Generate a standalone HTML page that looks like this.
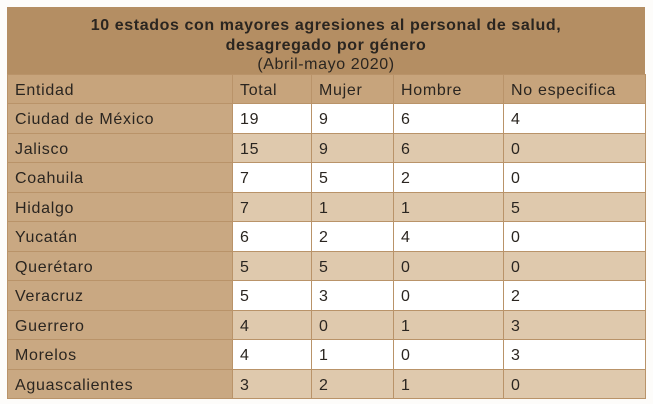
<!DOCTYPE html><html><head><style>
body{margin:0;width:653px;height:404px;background:#fdfcfa;font-family:"Liberation Sans",sans-serif;position:relative;overflow:hidden;color:#2a2520}
.t{position:absolute;left:7px;top:7px;width:638px;height:67px;background:#b48e63;text-align:center;font-size:16px;line-height:20px;letter-spacing:0.6px}
.c{position:absolute;box-sizing:border-box;border:1px solid #b99369;font-size:16px;letter-spacing:0.7px;padding-left:7px;padding-top:3px;display:flex;align-items:center}
</style></head><body>
<div class="t"><div style="padding-top:9px;font-weight:bold">10 estados con mayores agresiones al personal de salud,<br>desagregado por género</div><div style="line-height:18px">(Abril-mayo 2020)</div></div>
<div id="g"></div>
<script>
var cols=[7,232,311,393,503,645];
var rows=[["Entidad","Total","Mujer","Hombre","No especifica"],["Ciudad de México",19,9,6,4],["Jalisco",15,9,6,0],["Coahuila",7,5,2,0],["Hidalgo",7,1,1,5],["Yucatán",6,2,4,0],["Querétaro",5,5,0,0],["Veracruz",5,3,0,2],["Guerrero",4,0,1,3],["Morelos",4,1,0,3],["Aguascalientes",3,2,1,0]];
var h="";
for(var r=0;r<rows.length;r++){var y=r==0?74:Math.round(103+(r-1)*29.5);var y2=r==0?103:Math.round(103+r*29.5);
for(var c=0;c<5;c++){var bg=r==0?"#c7a47c":(c==0?"#c9a882":(r%2==1?"#ffffff":"#dfc9ad"));
h+='<div class="c" style="left:'+cols[c]+'px;top:'+y+'px;width:'+(cols[c+1]-cols[c]+1)+'px;height:'+(y2-y+1)+'px;background:'+bg+'">'+rows[r][c]+'</div>';}}
document.getElementById("g").innerHTML=h;
</script>
</body></html>
